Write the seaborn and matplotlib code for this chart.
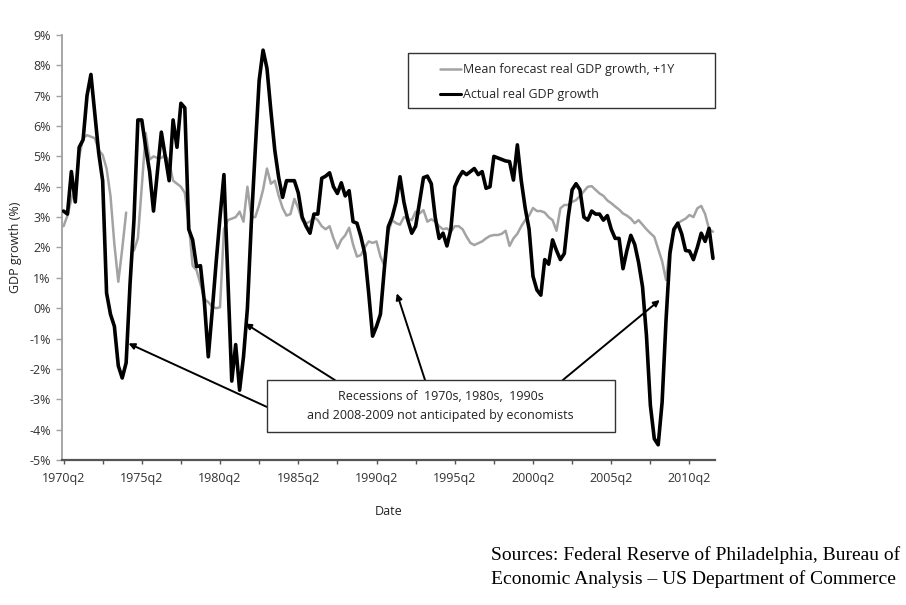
import numpy as np
import pandas as pd
import matplotlib
matplotlib.use('Agg')
import matplotlib.pyplot as plt
import seaborn as sns
from matplotlib.patches import Rectangle
from matplotlib.lines import Line2D

# Quarterly data, 1970q2 .. 2011q4 (values in %)
nan = np.nan
actual = [
    3.2, 3.1, 4.5, 3.5, 5.3, 5.55, 7.0, 7.7, 6.4, 5.1,
    4.2, 0.5, -0.2, -0.6, -1.9, -2.3, -1.8, 0.8, 2.9, 6.2,
    6.2, 5.3, 4.5, 3.2, 4.5, 5.8, 5.0, 4.2, 6.2, 5.3,
    6.75, 6.6, 2.6, 2.25, 1.37, 1.4, 0.2, -1.6, -0.1, 1.5,
    3.0, 4.4, 1.0, -2.4, -1.2, -2.7, -1.6, 0.0, 2.8, 5.2,
    7.5, 8.5, 7.9, 6.5, 5.2, 4.3, 3.65, 4.2, 4.2, 4.2,
    3.8, 3.0, 2.7, 2.47, 3.1, 3.1, 4.28, 4.35, 4.46, 4.0,
    3.78, 4.13, 3.7, 3.87, 2.85, 2.8, 2.36, 1.8, 0.5, -0.92,
    -0.6, -0.2, 1.3, 2.68, 3.0, 3.5, 4.33, 3.5, 2.9, 2.47,
    2.7, 3.5, 4.3, 4.35, 4.1, 3.0, 2.3, 2.47, 2.05, 2.6,
    4.0, 4.3, 4.5, 4.4, 4.5, 4.6, 4.4, 4.5, 3.95, 4.0,
    5.0, 4.95, 4.9, 4.85, 4.83, 4.22, 5.38, 4.2, 3.3, 2.6,
    1.05, 0.6, 0.43, 1.6, 1.45, 2.25, 1.9, 1.6, 1.8, 3.0,
    3.9, 4.1, 3.9, 3.0, 2.9, 3.2, 3.1, 3.1, 2.9, 3.05,
    2.6, 2.3, 2.3, 1.3, 1.9, 2.4, 2.1, 1.5, 0.7, -0.9,
    -3.2, -4.3, -4.5, -3.1, -0.4, 1.8, 2.6, 2.8, 2.45, 1.9,
    1.88, 1.6, 2.0, 2.47, 2.2, 2.63, 1.64,
]
forecast = [
    2.7, 3.05, 3.6, 4.0, 5.0, 5.6, 5.7, 5.65, 5.6, 5.2,
    5.05, 4.6, 3.7, 2.1, 0.87, 1.95, 3.15, nan, 1.9, 2.3,
    4.0, 5.77, 4.9, 5.0, 4.95, 4.95, 5.05, 4.8, 4.2, 4.1,
    4.0, 3.8, 2.8, 1.4, 1.25, 0.8, 0.3, 0.2, 0.05, 0.0,
    0.03, 2.6, 2.9, 2.95, 3.0, 3.18, 2.85, 4.0, 3.0, 3.0,
    3.4, 3.9, 4.6, 4.1, 4.2, 3.7, 3.3, 3.05, 3.1, 3.6,
    3.3, 2.9, 2.8, 2.85, 3.0, 2.9, 2.7, 2.6, 2.7, 2.3,
    1.97, 2.25, 2.4, 2.65, 2.1, 1.7, 1.75, 2.0, 2.2, 2.15,
    2.2, 1.7, 1.4, 2.5, 2.9, 2.8, 2.75, 3.0, 2.95, 2.9,
    3.18, 3.12, 3.23, 2.85, 2.93, 2.85, 2.7, 2.6, 2.63, 2.52,
    2.7, 2.7, 2.6, 2.36, 2.15, 2.08, 2.14, 2.2, 2.3, 2.38,
    2.41, 2.41, 2.45, 2.55, 2.05, 2.3, 2.45, 2.7, 2.9, 3.05,
    3.3, 3.2, 3.2, 3.15, 3.0, 2.9, 2.55, 3.29, 3.4, 3.4,
    3.5, 3.56, 3.7, 3.85, 4.0, 4.02, 3.9, 3.78, 3.7, 3.55,
    3.46, 3.35, 3.25, 3.12, 3.05, 2.95, 2.8, 2.9, 2.75, 2.6,
    2.47, 2.35, 1.95, 1.55, 0.93, 2.0, 2.5, 2.8, 2.88, 2.95,
    3.07, 3.0, 3.29, 3.37, 3.1, 2.6, 2.52,
]
tick_labels = ['1970q2', '1975q2', '1980q2', '1985q2', '1990q2',
               '1995q2', '2000q2', '2005q2', '2010q2']
y_ticks = list(range(-5, 10))

df = pd.DataFrame({'t': np.arange(len(actual)), 'actual': actual, 'forecast': forecast})
df['segment'] = df['forecast'].isna().cumsum()

sns.set_theme(style='white')
plt.rcParams['font.family'] = ['Open Sans', 'DejaVu Sans']

fig = plt.figure(figsize=(9.06, 6.05), dpi=100)
ax = fig.add_axes([0.0684, 0.2397, 0.7207, 0.7025])

grey = '#a3a3a3'
sns.lineplot(data=df.dropna(subset=['forecast']), x='t', y='forecast', units='segment',
             estimator=None, color=grey, lw=1.8, ax=ax, zorder=2)
sns.lineplot(data=df, x='t', y='actual', color='black', lw=2.6, ax=ax, zorder=3)

ax.set_xlim(-0.4, 166.5)
ax.set_ylim(-5, 9)
ax.set_yticks(y_ticks)
ax.set_yticklabels([f'{v}%' for v in y_ticks])
ax.set_xticks(np.arange(0, 161, 20))
ax.set_xticks(np.arange(10, 161, 20), minor=True)
ax.set_xticklabels(tick_labels)

for s in ['top', 'right']:
    ax.spines[s].set_visible(False)
ax.spines['left'].set_color('#a0a0a0')
ax.spines['left'].set_linewidth(1.3)
ax.spines['bottom'].set_color('#555555')
ax.spines['bottom'].set_linewidth(1.6)
ax.tick_params(axis='y', which='major', direction='out', length=4, width=1, color='#a0a0a0',
               left=True, labelsize=9, labelcolor='#333333', pad=4)
ax.tick_params(axis='x', which='both', direction='out', length=3, width=1, color='#555555',
               bottom=True, labelsize=9, labelcolor='#333333', pad=6)

ax.set_ylabel('GDP growth (%)', fontsize=9, color='#222222', labelpad=5)
ax.set_xlabel('Date', fontsize=9, color='#222222', labelpad=14)

# legend with its own rectangle frame
ax.add_patch(Rectangle((0.53, 0.828), 0.47, 0.13, transform=ax.transAxes, fill=False,
                       ec='#333333', lw=1.0, clip_on=False, zorder=5))
handles = [Line2D([], [], color=grey, lw=1.8), Line2D([], [], color='black', lw=2.2)]
ax.legend(handles, ['Mean forecast real GDP growth, +1Y', 'Actual real GDP growth'],
          loc='center left', bbox_to_anchor=(0.579, 0.889), frameon=False, fontsize=9,
          borderpad=0, borderaxespad=0, handlelength=1.7, handletextpad=0.15,
          labelspacing=0.95)

# annotation box and arrows
ax.add_patch(Rectangle((0.314, 0.066), 0.533, 0.122, transform=ax.transAxes, fc='white',
                       ec='#333333', lw=1.0, clip_on=False, zorder=6))
ax.text(0.58, 0.127, 'Recessions of  1970s, 1980s,  1990s\nand 2008-2009 not anticipated by economists',
        transform=ax.transAxes, ha='center', va='center', fontsize=9, color='#222222',
        linespacing=1.6, zorder=7)
arrows = [((0.3135, 0.125), (16.6, -1.16)),
          ((0.418, 0.188), (46.4, -0.5)),
          ((0.556, 0.188), (85.2, 0.49)),
          ((0.767, 0.188), (152.4, 0.27))]
for start, tip in arrows:
    ax.annotate('', xy=tip, xycoords='data', xytext=start, textcoords='axes fraction',
                arrowprops=dict(arrowstyle='-|>', color='black', lw=1.4, mutation_scale=9,
                                shrinkA=0, shrinkB=0), zorder=4)

fig.text(0.542, 0.063, 'Sources: Federal Reserve of Philadelphia, Bureau of\n'
         'Economic Analysis \u2013 US Department of Commerce',
         ha='left', va='center', fontsize=14, family='Liberation Serif', color='black',
         linespacing=1.45)

fig.savefig('out.png', dpi=100, facecolor='white')
